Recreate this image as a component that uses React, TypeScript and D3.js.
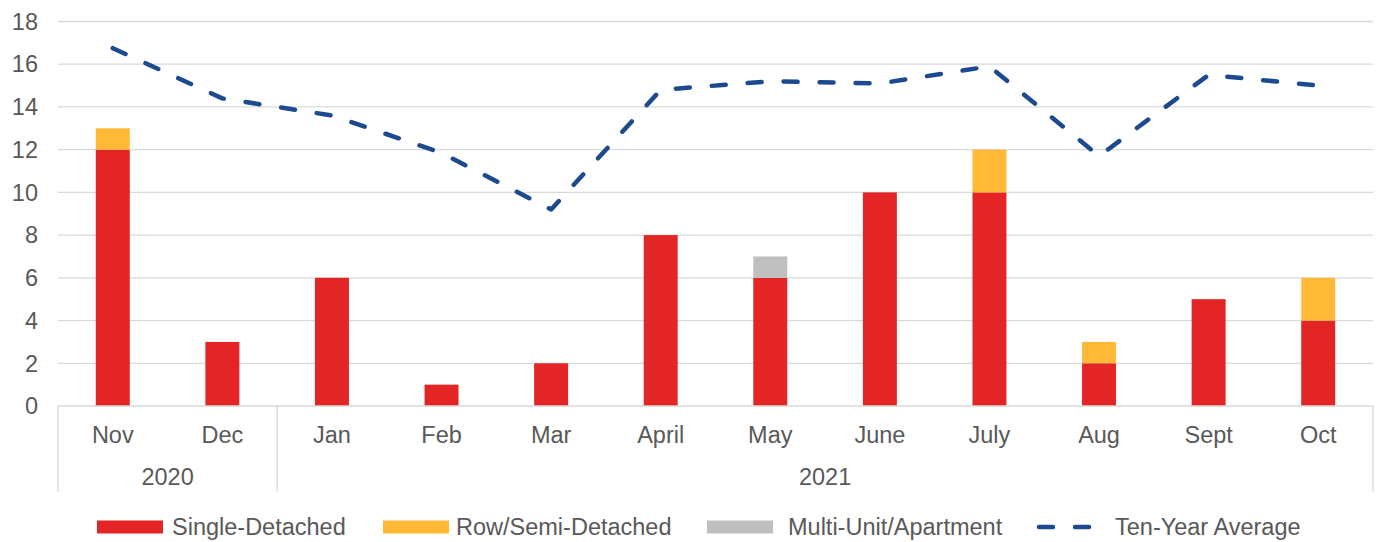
import React, { useEffect, useRef } from 'react'
import * as d3 from 'd3'

const months = ['Nov', 'Dec', 'Jan', 'Feb', 'Mar', 'April', 'May', 'June', 'July', 'Aug', 'Sept', 'Oct']
const years = [
  { label: '2020', from: 0, to: 1 },
  { label: '2021', from: 2, to: 11 },
]
const singleDetached = [12, 3, 6, 1, 2, 8, 6, 10, 10, 2, 5, 4]
const rowSemi = [1, 0, 0, 0, 0, 0, 0, 0, 2, 1, 0, 2]
const multiUnit = [0, 0, 0, 0, 0, 0, 1, 0, 0, 0, 0, 0]
const tenYearAvg = [16.75, 14.4, 13.6, 11.85, 9.2, 14.8, 15.2, 15.1, 15.9, 11.7, 15.5, 15.0]
const yTicks = [0, 2, 4, 6, 8, 10, 12, 14, 16, 18]

const seriesKeys = ['single', 'row', 'multi'] as const
const colors: Record<string, string> = { single: '#e32526', row: '#ffb936', multi: '#bfbfbf' }
const lineColor = '#1b4a8f'
const textColor = '#595959'
const fontSize = '23.5px'

const App: React.FC = () => {
  const svgRef = useRef<SVGSVGElement>(null)

  useEffect(() => {
    if (!svgRef.current) return
    const width = 1382
    const height = 542
    const margin = { top: 21.5, right: 9, bottom: 136, left: 58 }
    const innerWidth = width - margin.left - margin.right
    const innerHeight = height - margin.top - margin.bottom

    const svg = d3.select(svgRef.current)
    svg.selectAll('*').remove()
    svg.attr('width', width).attr('height', height)

    const g = svg.append('g').attr('transform', `translate(${margin.left},${margin.top})`)

    const x = d3.scaleBand<string>().domain(months).range([0, innerWidth]).paddingInner(0.69).paddingOuter(0.345)
    const xc = d3.scaleBand<string>().domain(months).range([0, innerWidth])
    const y = d3.scaleLinear().domain([0, 18]).range([innerHeight, 0])

    // grid
    g.append('g')
      .selectAll('line')
      .data(yTicks.filter((t) => t > 0))
      .join('line')
      .attr('x1', 0)
      .attr('x2', innerWidth)
      .attr('y1', (d) => y(d))
      .attr('y2', (d) => y(d))
      .attr('stroke', '#d9d9d9')
      .attr('stroke-width', 1.3)

    // y labels
    g.append('g')
      .selectAll('text')
      .data(yTicks)
      .join('text')
      .attr('x', -20)
      .attr('y', (d) => y(d))
      .attr('dy', '0.35em')
      .attr('text-anchor', 'end')
      .attr('fill', textColor)
      .style('font-size', fontSize)
      .text((d) => d)

    // stacked bars
    const rows = months.map((m, i) => ({ month: m, single: singleDetached[i], row: rowSemi[i], multi: multiUnit[i] }))
    const stack = d3.stack<any>().keys(seriesKeys as unknown as string[])(rows)
    g.append('g')
      .selectAll('g')
      .data(stack)
      .join('g')
      .attr('fill', (d) => colors[d.key])
      .selectAll('rect')
      .data((d) => d)
      .join('rect')
      .attr('x', (d: any) => x(d.data.month)!)
      .attr('width', x.bandwidth())
      .attr('y', (d) => y(d[1]))
      .attr('height', (d) => y(d[0]) - y(d[1]))

    // axis line and category separators
    g.append('line')
      .attr('x1', 0)
      .attr('x2', innerWidth)
      .attr('y1', innerHeight)
      .attr('y2', innerHeight)
      .attr('stroke', '#d9d9d9')
      .attr('stroke-width', 1.3)

    const seps = [0, ...years.map((yr) => yr.to + 1)]
    g.append('g')
      .selectAll('line')
      .data(seps)
      .join('line')
      .attr('x1', (d) => (d < months.length ? xc(months[d])! : innerWidth))
      .attr('x2', (d) => (d < months.length ? xc(months[d])! : innerWidth))
      .attr('y1', innerHeight)
      .attr('y2', innerHeight + 86)
      .attr('stroke', '#d9d9d9')
      .attr('stroke-width', 1.3)

    // month labels
    g.append('g')
      .selectAll('text')
      .data(months)
      .join('text')
      .attr('x', (d) => xc(d)! + xc.bandwidth() / 2)
      .attr('y', innerHeight + 37)
      .attr('text-anchor', 'middle')
      .attr('fill', textColor)
      .style('font-size', fontSize)
      .text((d) => d)

    // year labels
    g.append('g')
      .selectAll('text')
      .data(years)
      .join('text')
      .attr('x', (d) => (xc(months[d.from])! + xc(months[d.to])! + xc.bandwidth()) / 2)
      .attr('y', innerHeight + 79)
      .attr('text-anchor', 'middle')
      .attr('fill', textColor)
      .style('font-size', fontSize)
      .text((d) => d.label)

    // ten-year average line
    const line = d3
      .line<number>()
      .x((_, i) => xc(months[i])! + xc.bandwidth() / 2)
      .y((d) => y(d))
    g.append('path')
      .attr('d', line(tenYearAvg))
      .attr('fill', 'none')
      .attr('stroke', lineColor)
      .attr('stroke-width', 4.5)
      .attr('stroke-dasharray', '14 22')
      .attr('stroke-linecap', 'round')
      .attr('stroke-linejoin', 'round')

    // legend
    const legend = [
      { label: 'Single-Detached', key: 'single', x: 97, tx: 172 },
      { label: 'Row/Semi-Detached', key: 'row', x: 383, tx: 456 },
      { label: 'Multi-Unit/Apartment', key: 'multi', x: 707, tx: 788 },
      { label: 'Ten-Year Average', key: 'line', x: 1037, tx: 1115 },
    ]
    const ly = 527
    const lg = svg.append('g')
    legend.forEach((l) => {
      if (l.key === 'line') {
        lg.append('line')
          .attr('x1', l.x + 2)
          .attr('x2', l.x + 62)
          .attr('y1', ly)
          .attr('y2', ly)
          .attr('stroke', lineColor)
          .attr('stroke-width', 4.5)
          .attr('stroke-linecap', 'round')
          .attr('stroke-dasharray', '14 22')
      } else {
        lg.append('rect').attr('x', l.x).attr('y', ly - 6.5).attr('width', 66).attr('height', 13).attr('fill', colors[l.key])
      }
      lg.append('text')
        .attr('x', l.tx)
        .attr('y', ly)
        .attr('dy', '0.35em')
        .attr('fill', textColor)
        .style('font-size', fontSize)
        .text(l.label)
    })
  }, [])

  return (
    <svg
      ref={svgRef}
      style={{ position: 'absolute', top: 0, left: 0, fontFamily: '"Liberation Sans", Arial, sans-serif', background: '#fff' }}
    ></svg>
  )
}

export default App
